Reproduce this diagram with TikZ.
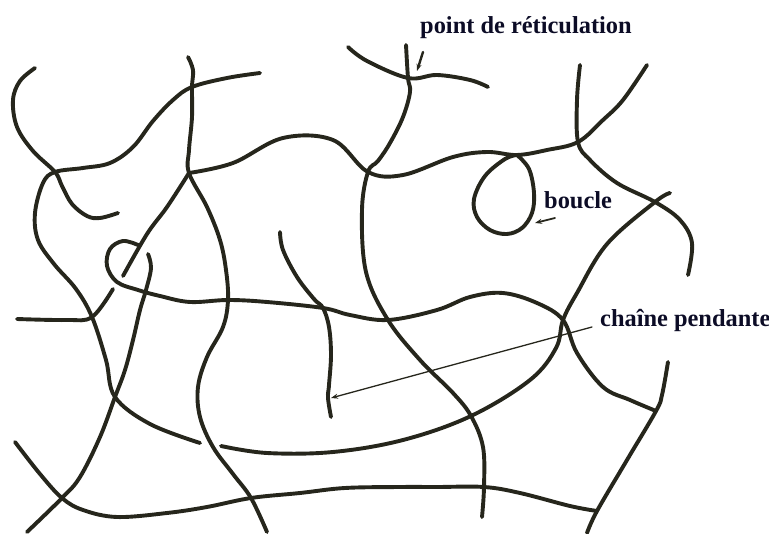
\documentclass[tikz,border=0pt]{standalone}
\usepackage{fontspec}
\setmainfont{Liberation Serif}
\usetikzlibrary{arrows.meta}
\definecolor{ink}{HTML}{26261C}
\definecolor{labelink}{HTML}{0C0C26}
\begin{document}
\begin{tikzpicture}[x=1pt,y=-1pt,
  strand/.style={draw=ink,line width=3.9pt,line cap=round,line join=round},
  label/.style={inner sep=0pt,text=labelink,font=\fontsize{24.4}{28}\selectfont\bfseries,anchor=base west},
  pointer/.style={draw=ink,line cap=round,-{Stealth[length=7pt,width=5pt]}}]
\useasboundingbox (0,0) rectangle (769,534);
% cross-link points
\coordinate (X1) at (55,172);
\coordinate (X2) at (192,87);
\coordinate (X3) at (189,173);
\coordinate (X4) at (368,172);
\coordinate (X5) at (408,78);
\coordinate (X6) at (578,142);
\coordinate (X7) at (655,202);
\coordinate (X8) at (92,317);
\coordinate (X9) at (115,397);
\coordinate (X10) at (228,300);
\coordinate (X11) at (323,308);
\coordinate (X12) at (388,320);
\coordinate (X13) at (563,320);
\coordinate (X14) at (656,411);
\coordinate (X15) at (471,416);
\coordinate (X16) at (484,487);
\coordinate (X17) at (597,511);
\coordinate (X18) at (62,498);
\coordinate (X19) at (251,498);
\coordinate (L) at (517,155);

% left arc ending in a hook
\draw[strand] plot[smooth,tension=0.6] coordinates {(35,68) (20,81) (13,100) (17,127) (33,151) (X1) (62,186) (72,204) (87,216) (100,218) (118,213)};
% upper strand running down the left side
\draw[strand] plot[smooth,tension=0.6] coordinates {(260,73) (227,78) (X2) (173,100) (153,121) (133,147) (110,163) (83,168) (X1) (43,183) (35,213) (38,240) (54,264) (76,289) (X8) (106,360) (X9) (150,424) (200,443)};
\draw[strand] plot[smooth,tension=0.6] coordinates {(221,446) (267,453) (333,452) (403,440) (X15) (530,380) (556,348) (X13) (577,293) (607,244) (X7) (670,193)};
% top vertical turning into the long S-curve
\draw[strand] plot[smooth,tension=0.6] coordinates {(188,57) (193,70) (X2) (192,117) (189,150) (X3) (207,207) (220,240) (226,270) (X10) (223,327) (207,357) (198,387) (200,417) (213,447) (233,474) (X19) (267,532)};
% diagonal passing under the loop
\draw[strand] plot[smooth,tension=0.6] coordinates {(X3) (167,207) (147,234) (123,276)};
\draw[strand] plot[smooth,tension=0.6] coordinates {(113,289) (X8) (67,320) (17,319)};
% strand with the small loop on the left
\draw[strand] plot[smooth,tension=0.6] coordinates {(27,532) (X18) (80,477) (100,437) (X9) (125,370) (133,340) (140,310) (146,290) (151,268) (148,254)};
\draw[strand] plot[smooth,tension=0.6] coordinates {(138,245) (123,241) (110,249) (107,266) (117,282) (138,290) (160,296) (190,302) (X10) (267,302) (X11) (350,315) (X12) (437,310) (470,297) (503,293) (537,303) (X13) (577,353) (603,387) (630,400) (X14)};
\draw[strand] plot[smooth,tension=0.6] coordinates {(668,362) (662,395) (X14) (627,460) (X17) (587,533)};
% top arc through the marked cross-link
\draw[strand] plot[smooth,tension=0.6] coordinates {(348,47) (367,61) (X5) (437,75) (470,80) (488,87)};
% long vertical from the marked cross-link to the bottom
\draw[strand] plot[smooth,tension=0.6] coordinates {(406,45) (X5) (410,92) (403,117) (390,143) (378,161) (X4) (362,210) (366,272) (X12) (420,360) (453,393) (X15) (483,447) (X16) (482,517)};
% upper horizontal carrying the closed loop
\draw[strand] plot[smooth,tension=0.6] coordinates {(X3) (233,163) (283,138) (333,140) (X4) (403,175) (453,157) (487,152) (L) (547,150) (X6) (603,120) (623,100) (647,65)};
\draw[strand] plot[smooth,tension=0.6] coordinates {(L) (505,159) (485,176) (474,199) (477,217) (490,230) (507,234) (522,228) (532,213) (534,193) (529,169) (L)};
% right vertical
\draw[strand] plot[smooth,tension=0.6] coordinates {(580,65) (577,100) (X6) (590,160) (617,183) (X7) (680,220) (692,243) (688,275)};
% dangling chain
\draw[strand] plot[smooth,tension=0.6] coordinates {(280,232) (283,250) (297,277) (314,299) (X11) (329,327) (331,355) (329,385) (328,398) (331,417)};
% bottom strand
\draw[strand] plot[smooth,tension=0.6] coordinates {(15,442) (40,474) (X18) (83,510) (117,517) (167,513) (207,507) (X19) (300,493) (345,488) (400,487) (437,487) (X16) (520,493) (570,506) (X17)};

% labels and pointers
\node[label] (pt) at (420,34) {point de réticulation};
\node[label] (bc) at (544,209) {boucle};
\node[label] (cp) at (600,327) {chaîne pendante};
\coordinate (ptA) at (423,52);
\coordinate (ptB) at (417,71);
\coordinate (bcA) at (555,218);
\coordinate (bcB) at (535,223);
\coordinate (cpA) at (592,327);
\coordinate (cpB) at (331,398);
\draw[pointer,line width=2.4pt] (ptA) -- (ptB);
\draw[pointer,line width=1.8pt] (bcA) -- (bcB);
\draw[pointer,line width=1.3pt] (cpA) -- (cpB);
\end{tikzpicture}
\end{document}
